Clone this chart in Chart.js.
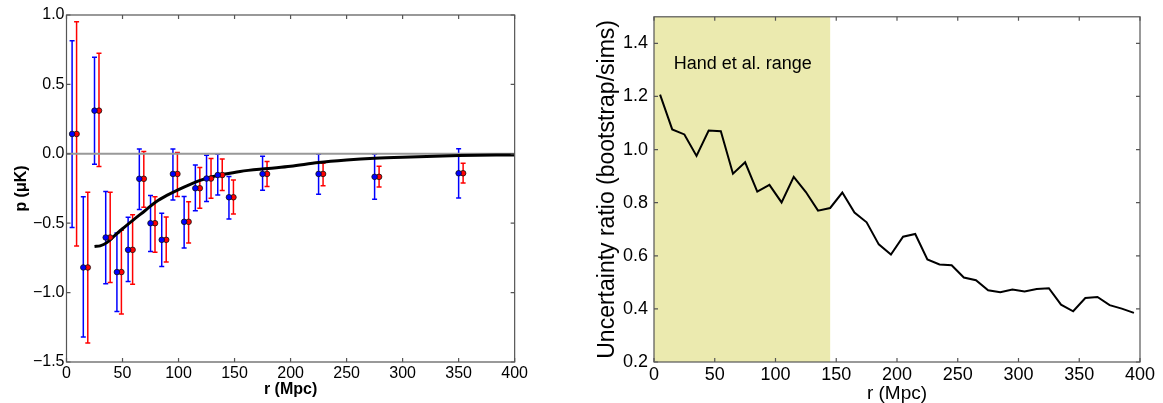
<!DOCTYPE html>
<html>
<head>
<meta charset="utf-8">
<script src="https://cdn.jsdelivr.net/npm/chart.js@4"></script>
<style>
  html, body { margin: 0; padding: 0; background: #fff; }
  #wrap { position: relative; width: 1163px; height: 403px; }
  #left { position: absolute; left: 0; top: 0; }
  #right { position: absolute; left: 530px; top: 0; }
</style>
</head>
<body>
<div id="wrap">
  <canvas id="left" width="530" height="403" style="width:530px;height:403px"></canvas>
  <canvas id="right" width="633" height="403" style="width:633px;height:403px"></canvas>
</div>
<script>
// --- left panel data ---
const rBlue = [5, 15, 25, 35, 45, 55, 65, 75, 85, 95, 105, 115, 125, 135, 145, 175, 225, 275, 350];
const rRed = [9, 19, 29, 39, 49, 59, 69, 79, 89, 99, 109, 119, 129, 139, 149, 179, 229, 279, 354];
const pValues = [0.143, -0.819, 0.311, -0.603, -0.852, -0.692, -0.18, -0.5, -0.62, -0.145, -0.49, -0.248, -0.178, -0.153, -0.313, -0.145, -0.145, -0.166, -0.14];
const blueHi = [0.815, -0.31, 0.695, -0.272, -0.57, -0.458, 0.035, -0.3, -0.428, 0.034, -0.308, -0.081, -0.01, -0.003, -0.164, -0.018, -0.003, -0.003, 0.037];
const blueLo = [-0.531, -1.32, -0.075, -0.937, -1.136, -0.92, -0.402, -0.704, -0.812, -0.333, -0.678, -0.41, -0.344, -0.296, -0.469, -0.263, -0.291, -0.327, -0.318];
const redHi = [0.952, -0.277, 0.724, -0.277, -0.55, -0.44, 0.016, -0.31, -0.456, 0.009, -0.346, -0.098, -0.034, -0.037, -0.188, -0.056, -0.068, -0.089, -0.068];
const redLo = [-0.665, -1.364, -0.092, -0.927, -1.155, -0.939, -0.385, -0.71, -0.78, -0.308, -0.642, -0.392, -0.32, -0.265, -0.434, -0.236, -0.231, -0.24, -0.21];

const curveR = [25, 30, 36, 42, 50, 60, 70, 80, 90, 100, 110, 120, 130, 140, 155, 180, 200, 225, 250, 275, 300, 350, 400];
const curveP = [-0.668, -0.663, -0.64, -0.596, -0.54, -0.474, -0.41, -0.345, -0.298, -0.258, -0.222, -0.19, -0.165, -0.148, -0.127, -0.106, -0.09, -0.063, -0.045, -0.032, -0.024, -0.013, -0.008];

const zeroLineR = [0, 400];
const leftXTicks = [0, 50, 100, 150, 200, 250, 300, 350, 400];
const leftYTicks = [-1.5, -1.0, -0.5, 0.0, 0.5, 1.0];

// --- right panel data ---
const ratioR = [5, 15, 25, 35, 45, 55, 65, 75, 85, 95, 105, 115, 125, 135, 145, 155, 165, 175, 185, 195,
                205, 215, 225, 235, 245, 255, 265, 275, 285, 295, 305, 315, 325, 335, 345, 355, 365, 375, 385, 395];
const ratioValues = [1.207, 1.076, 1.057, 0.976, 1.072, 1.069, 0.909, 0.952, 0.842, 0.867, 0.801, 0.897, 0.84, 0.77, 0.78, 0.838, 0.763, 0.726, 0.643, 0.605,
                     0.672, 0.682, 0.586, 0.567, 0.564, 0.518, 0.508, 0.470, 0.463, 0.473, 0.466, 0.475, 0.478, 0.416, 0.391, 0.441, 0.445, 0.414, 0.401, 0.385];
const handRange = [0, 145];
const rightXTicks = [0, 50, 100, 150, 200, 250, 300, 350, 400];
const rightYTicks = [0.2, 0.4, 0.6, 0.8, 1.0, 1.2, 1.4];

const FONT = '"Liberation Sans", Arial, sans-serif';

const fmt = v => (v < 0 ? '\u2212' : '') + Math.abs(v).toFixed(1);

// frame + inward tick marks on all four sides (matplotlib look)
const frameTicks = {
    id: 'frameTicks',
    afterDatasetsDraw(chart) {
        const { ctx, chartArea: a, scales: { x, y } } = chart;
        ctx.save();
        ctx.strokeStyle = '#555';
        ctx.lineWidth = 1.2;
        ctx.strokeRect(a.left, a.top, a.right - a.left, a.bottom - a.top);
        ctx.beginPath();
        x.ticks.forEach(t => {
            const px = x.getPixelForValue(t.value);
            ctx.moveTo(px, a.bottom); ctx.lineTo(px, a.bottom - 4);
            ctx.moveTo(px, a.top); ctx.lineTo(px, a.top + 4);
        });
        y.ticks.forEach(t => {
            const py = y.getPixelForValue(t.value);
            ctx.moveTo(a.left, py); ctx.lineTo(a.left + 4, py);
            ctx.moveTo(a.right, py); ctx.lineTo(a.right - 4, py);
        });
        ctx.stroke();
        ctx.restore();
    }
};

// vertical error bars with caps
const errorBars = {
    id: 'errorBars',
    beforeDatasetsDraw(chart) {
        const { ctx, scales: { x, y } } = chart;
        const drawSet = (rs, lo, hi, color) => {
            ctx.strokeStyle = color;
            ctx.lineWidth = 1.5;
            ctx.beginPath();
            rs.forEach((r, i) => {
                const px = x.getPixelForValue(r);
                const yl = y.getPixelForValue(lo[i]);
                const yh = y.getPixelForValue(hi[i]);
                ctx.moveTo(px, yl); ctx.lineTo(px, yh);
                ctx.moveTo(px - 2.5, yl); ctx.lineTo(px + 2.5, yl);
                ctx.moveTo(px - 2.5, yh); ctx.lineTo(px + 2.5, yh);
            });
            ctx.stroke();
        };
        ctx.save();
        drawSet(rBlue, blueLo, blueHi, '#0000ff');
        drawSet(rRed, redLo, redHi, '#ff0000');
        ctx.restore();
    }
};

// shaded "Hand et al." region and its label
const handShade = {
    id: 'handShade',
    beforeDatasetsDraw(chart) {
        const { ctx, chartArea: a, scales: { x, y } } = chart;
        const x0 = x.getPixelForValue(handRange[0]);
        const x1 = x.getPixelForValue(handRange[1]);
        ctx.save();
        ctx.fillStyle = '#ebeaaf';
        ctx.fillRect(x0, a.top, x1 - x0, a.bottom - a.top);
        ctx.fillStyle = '#000';
        ctx.font = '18px ' + FONT;
        ctx.textAlign = 'center';
        ctx.textBaseline = 'middle';
        ctx.fillText('Hand et al. range', x.getPixelForValue(73), y.getPixelForValue(1.324));
        ctx.restore();
    }
};

const baseScale = (min, max, tickVals, extra) => Object.assign({
    type: 'linear',
    min, max,
    afterBuildTicks: s => { s.ticks = tickVals.map(v => ({ value: v })); },
    grid: { display: false, drawTicks: false },
    border: { display: false }
}, extra);

new Chart(document.getElementById('left'), {
    type: 'scatter',
    data: {
        datasets: [
            {
                data: rBlue.map((r, i) => ({ x: r, y: pValues[i] })),
                backgroundColor: '#0000ff', borderColor: '#111', borderWidth: 0.8,
                pointRadius: 2.8
            },
            {
                data: rRed.map((r, i) => ({ x: r, y: pValues[i] })),
                backgroundColor: '#ff0000', borderColor: '#111', borderWidth: 0.8,
                pointRadius: 2.8
            },
            {
                type: 'line',
                data: curveR.map((r, i) => ({ x: r, y: curveP[i] })),
                borderColor: '#000', borderWidth: 3, pointRadius: 0,
                cubicInterpolationMode: 'monotone', fill: false
            },
            {
                type: 'line',
                data: zeroLineR.map(r => ({ x: r, y: 0 })),
                borderColor: '#999', borderWidth: 2, pointRadius: 0, fill: false
            }
        ]
    },
    options: {
        responsive: false,
        animation: false,
        events: [],
        layout: { padding: { top: 15, right: 14.5, left: 0, bottom: 0 } },
        plugins: { legend: { display: false }, tooltip: { enabled: false } },
        scales: {
            x: baseScale(0, 400, leftXTicks, {
                afterFit: s => { s.height = 41; },
                ticks: { color: '#000', font: { family: FONT, size: 16 }, autoSkip: false, maxRotation: 0, padding: 2, callback: v => String(v) },
                title: { display: true, text: 'r (Mpc)', color: '#000', font: { family: FONT, size: 16, weight: 'bold' }, padding: 4 }
            }),
            y: baseScale(-1.5, 1.0, leftYTicks, {
                afterFit: s => { s.width = 66.5; },
                ticks: { color: '#000', font: { family: FONT, size: 16 }, autoSkip: false, padding: 2, callback: v => fmt(v) },
                title: { display: true, text: 'p (\u03bcK)', color: '#000', font: { family: FONT, size: 16, weight: 'bold' }, padding: 12 }
            })
        }
    },
    plugins: [errorBars, frameTicks]
});

new Chart(document.getElementById('right'), {
    type: 'line',
    data: {
        datasets: [{
            data: ratioR.map((r, i) => ({ x: r, y: ratioValues[i] })),
            borderColor: '#000', borderWidth: 2, pointRadius: 0, fill: false, tension: 0
        }]
    },
    options: {
        responsive: false,
        animation: false,
        events: [],
        layout: { padding: { top: 15, right: 23, left: 55, bottom: 0 } },
        plugins: { legend: { display: false }, tooltip: { enabled: false } },
        scales: {
            x: baseScale(0, 400, rightXTicks, {
                afterFit: s => { s.height = 41; },
                ticks: { color: '#000', font: { family: FONT, size: 18 }, autoSkip: false, maxRotation: 0, padding: 2 },
                title: { display: true, text: 'r (Mpc)', color: '#000', font: { family: FONT, size: 19, lineHeight: 1.0 }, padding: 0 }
            }),
            y: baseScale(0.2, 1.5, rightYTicks, {
                afterFit: s => { s.width = 69; },
                ticks: { color: '#000', font: { family: FONT, size: 18 }, autoSkip: false, padding: 6, callback: v => v.toFixed(1) },
                title: { display: true, text: 'Uncertainty ratio (bootstrap/sims)', color: '#000', font: { family: FONT, size: 23 }, padding: 9 }
            })
        }
    },
    plugins: [handShade, frameTicks]
});
</script>
</body>
</html>
